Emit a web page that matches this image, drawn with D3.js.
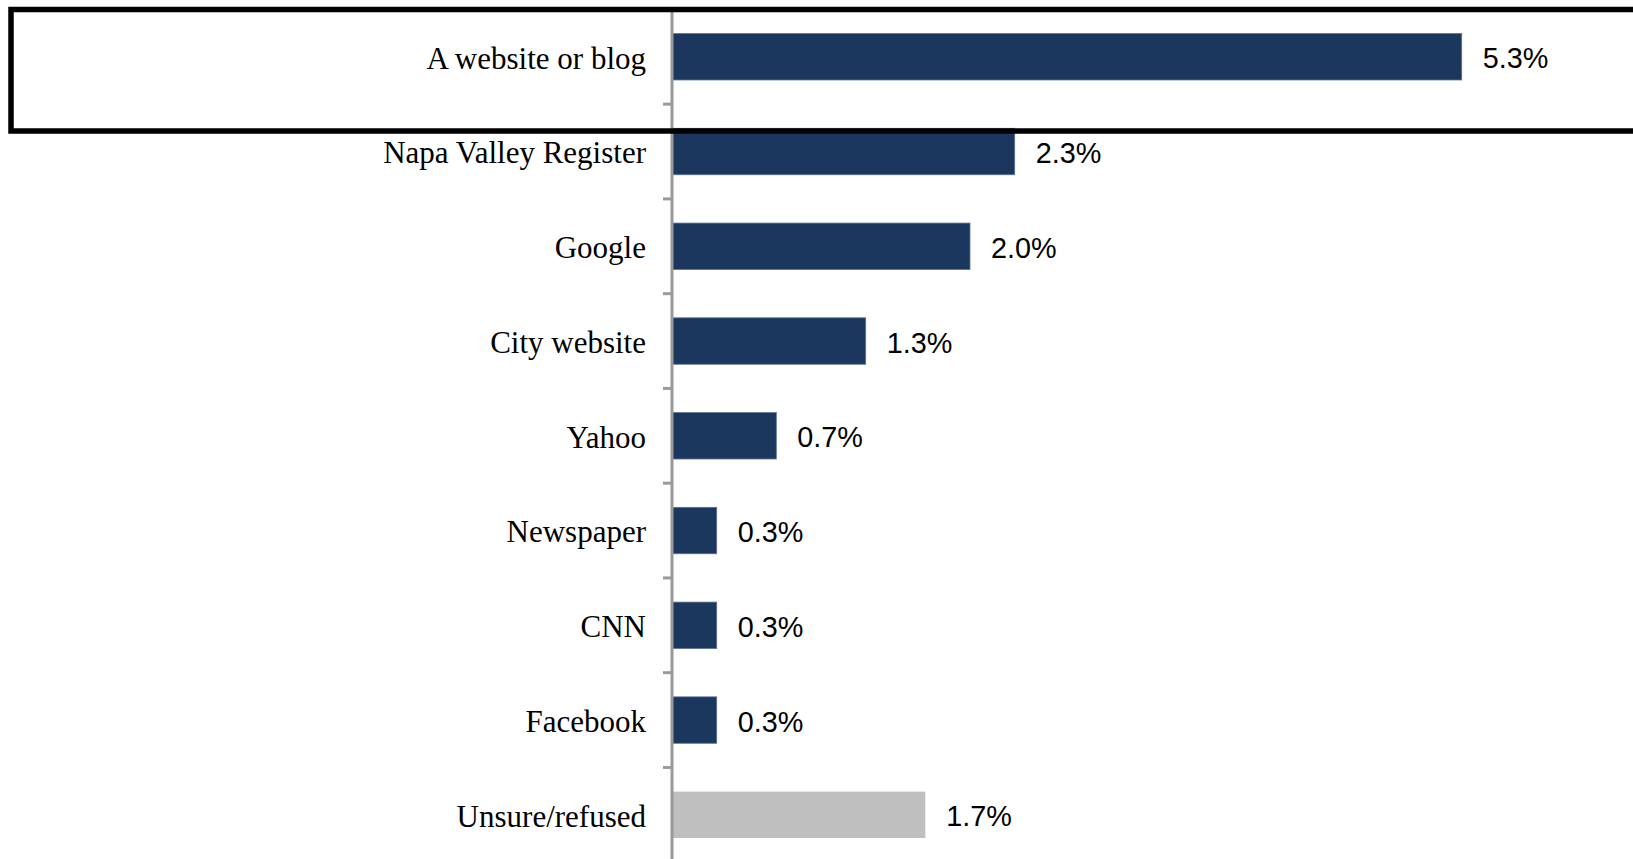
<!DOCTYPE html>
<html>
<head>
<meta charset="utf-8">
<script src="https://cdn.jsdelivr.net/npm/d3@7"></script>
<style>
  html, body { margin: 0; padding: 0; background: #ffffff; }
  svg { display: block; }
</style>
</head>
<body>
<svg id="chart" width="1633" height="859"></svg>
<script>
// ---- data ----
const categories = ["A website or blog", "Napa Valley Register", "Google", "City website", "Yahoo", "Newspaper", "CNN", "Facebook", "Unsure/refused"];
const values = [5.3, 2.3, 2.0, 1.3, 0.7, 0.3, 0.3, 0.3, 1.7];
const valueLabels = ["5.3%", "2.3%", "2.0%", "1.3%", "0.7%", "0.3%", "0.3%", "0.3%", "1.7%"];
const barColors = ["#1B375E", "#1B375E", "#1B375E", "#1B375E", "#1B375E", "#1B375E", "#1B375E", "#1B375E", "#BFBFBF"];

const data = categories.map((c, i) => ({ cat: c, value: values[i], label: valueLabels[i], color: barColors[i] }));

const svg = d3.select("#chart");

const axisX = 672;
const x = d3.scaleLinear().domain([0, 6]).range([axisX, axisX + 6 * 149]);
const y = d3.scaleBand()
  .domain(categories)
  .range([9.4, 862.2])
  .paddingInner(0.51)
  .paddingOuter(0.255);

// bars
svg.append("g").selectAll("rect")
  .data(data)
  .join("rect")
  .attr("x", x(0))
  .attr("y", d => y(d.cat))
  .attr("width", d => x(d.value) - x(0))
  .attr("height", y.bandwidth())
  .attr("fill", d => d.color)
  .attr("stroke", d => d.color === "#BFBFBF" ? "none" : "#5d7395")
  .attr("stroke-width", 0.8);

// axis line
svg.append("line")
  .attr("x1", axisX).attr("x2", axisX)
  .attr("y1", y.range()[0]).attr("y2", y.range()[1])
  .attr("stroke", "#9a9a9a").attr("stroke-width", 3);

// ticks at band boundaries
const boundaries = [y.range()[0]].concat(categories.map(c => y(c) + y.bandwidth() + (y.step() - y.bandwidth()) / 2));
svg.append("g").selectAll("line")
  .data(boundaries)
  .join("line")
  .attr("x1", axisX - 9).attr("x2", axisX)
  .attr("y1", d => d).attr("y2", d => d)
  .attr("stroke", "#9a9a9a").attr("stroke-width", 3);

// category labels
svg.append("g").selectAll("text")
  .data(data)
  .join("text")
  .attr("x", axisX - 26)
  .attr("y", d => y(d.cat) + y.bandwidth() / 2)
  .attr("dy", "0.38em")
  .attr("text-anchor", "end")
  .attr("font-family", "'Liberation Serif', 'Times New Roman', serif")
  .attr("font-size", 31)
  .attr("fill", "#000")
  .text(d => d.cat);

// value labels
svg.append("g").selectAll("text")
  .data(data)
  .join("text")
  .attr("x", d => x(d.value) + 21)
  .attr("y", d => y(d.cat) + y.bandwidth() / 2)
  .attr("dy", "0.40em")
  .attr("text-anchor", "start")
  .attr("font-family", "'Liberation Sans', Arial, sans-serif")
  .attr("font-size", 28.8)
  .attr("fill", "#000")
  .text(d => d.label);

// highlight rectangle
svg.append("rect")
  .attr("x", 11)
  .attr("y", 9.5)
  .attr("width", 1700)
  .attr("height", 121.5)
  .attr("fill", "none")
  .attr("stroke", "#000")
  .attr("stroke-width", 5.5);
</script>
</body>
</html>
